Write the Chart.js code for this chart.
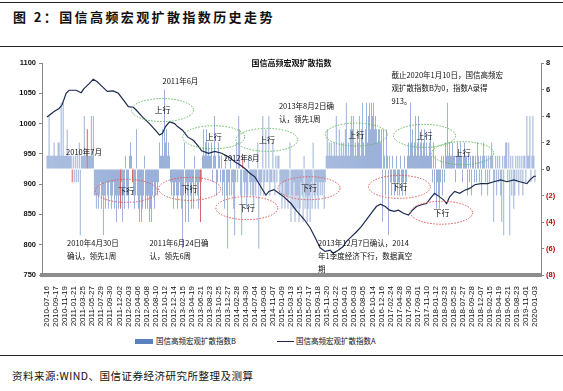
<!DOCTYPE html>
<html>
<head>
<meta charset="utf-8">
<script src="https://cdn.jsdelivr.net/npm/chart.js@4.4.1/dist/chart.umd.min.js"></script>
<style>
  body { margin: 0; width: 563px; height: 391px; background: #fff; position: relative; overflow: hidden; font-family: "Noto Sans CJK SC", sans-serif; }
  .rule { position: absolute; left: 0; width: 563px; height: 1px; background: #222; }
  #title { position: absolute; left: 13px; top: 7px; font-size: 13px; font-weight: bold; letter-spacing: 2.4px; color: #111; }
  #src { position: absolute; left: 12px; top: 368px; font-size: 10.5px; letter-spacing: 0.5px; color: #111; }
  #wrap { position: absolute; left: 0; top: 50px; width: 563px; height: 282px; }
  .lg { position: absolute; top: 334px; font-size: 7.5px; color: #111; line-height: 14px; }
  .box { position: absolute; top: 339px; left: 135px; width: 18px; height: 5px; background: #5b80bf; }
  .ln { position: absolute; top: 341px; left: 277px; width: 17px; height: 1px; background: #1c2a52; }
</style>
</head>
<body>
<div class="rule" style="top:2px"></div>
<div id="title">图 2：国信高频宏观扩散指数历史走势</div>
<div class="rule" style="top:46px"></div>
<div id="wrap"><canvas id="chart"></canvas></div>
<div class="box"></div><div class="lg" style="left:156px">国信高频宏观扩散指数B</div>
<div class="ln"></div><div class="lg" style="left:296px">国信高频宏观扩散指数A</div>
<div class="rule" style="top:355px"></div>
<div id="src">资料来源:WIND、国信证券经济研究所整理及测算</div>
<script>
const tickLabels = ['2010-07-16','2010-09-17','2010-11-19','2011-01-21','2011-03-25','2011-05-27','2011-07-29','2011-09-30','2011-12-02',
  '2012-02-03','2012-04-06','2012-06-08','2012-08-10','2012-10-12','2012-12-14','2013-02-15','2013-04-19','2013-06-21','2013-08-23',
  '2013-10-25','2013-12-27','2014-02-28','2014-04-30','2014-07-04','2014-09-05','2014-11-07','2015-01-09','2015-03-13','2015-05-15',
  '2015-07-17','2015-09-18','2015-11-20','2016-01-22','2016-04-01','2016-06-03','2016-08-05','2016-10-14','2016-12-16','2017-02-24',
  '2017-04-28','2017-06-30','2017-09-01','2017-11-10','2018-01-12','2018-03-23','2018-05-25','2018-07-27','2018-09-28','2018-12-07',
  '2019-02-15','2019-04-19','2019-06-21','2019-08-23','2019-11-01','2020-01-03'];

// 指数B (weekly, right axis), ten weeks per row
const indexB = [
  1,1,4,1,1,1,1,2,1,1,
  1,2,2,1,5,1,5,1,1,1,
  3,1,1,1,1,-1,1,-1,1,-1,
  1,-1,2,-5,1,1,1,4,1,1,
  3,1,1,1,4,1,4,-2,-2,-3,
  -2,-3,-2,-1,-3,-2,-5,-2,-3,-1,
  -2,-3,-1,-2,-3,-2,-1,-3,-2,-4,
  -2,-3,-2,-3,-1,-4,-2,-3,1,-2,
  -2,-3,1,2,1,-1,-2,-3,-2,3,
  -2,-3,-4,-2,-4,-3,-2,1,-3,-2,
  -3,-2,-4,-3,-4,-2,-1,-3,-2,-1,
  -2,-1,2,1,1,3,1,6,2,3,
  1,2,1,-1,-2,-1,-3,-2,-1,-2,
  -3,-2,-1,-2,-3,-6,-2,2,-4,-1,
  -2,-4,-1,-2,-3,-1,-3,1,-2,-1,
  -2,-3,-1,-4,-1,1,3,1,2,3,
  1,2,1,1,2,-1,1,4,1,-2,
  -1,2,1,-1,1,-2,-1,-3,1,-2,
  -6,-1,-2,1,-2,-1,-3,-5,-1,2,
  -1,4,3,-2,-5,1,-1,-2,-1,-3,
  -2,1,-1,-2,-1,-2,-3,-1,-2,-1,
  2,-6,-1,-2,-1,4,-2,-1,3,-1,
  -1,4,-2,-1,-1,2,-1,-2,1,-1,
  1,1,-2,-1,-3,-2,-1,-3,-2,-2,
  -3,-2,2,-4,-2,-3,-1,-4,-2,-3,
  -2,-4,-3,-1,-2,-4,1,-3,-2,-4,
  -3,-2,-4,-1,-3,2,-2,-3,-1,-2,
  -3,-1,-2,-1,-2,-1,-3,-1,1,3,
  1,2,1,2,1,1,2,1,4,1,
  1,3,1,2,1,2,1,3,5,1,
  2,1,3,4,3,4,1,2,1,3,
  2,4,1,3,5,2,1,3,5,2,
  4,5,3,5,4,5,3,4,3,2,
  3,3,2,3,-4,3,1,-2,3,1,
  -5,1,-1,-2,1,-1,-2,-1,1,-2,
  -1,-2,1,-1,-2,-1,1,-2,-1,1,
  2,1,5,2,3,1,2,4,1,2,
  4,1,2,3,1,2,3,1,2,1,
  1,2,3,1,-1,2,-2,1,-3,-1,
  -2,-3,-1,1,-2,1,-1,2,1,5,
  1,2,1,1,2,1,1,-1,1,2,
  1,1,2,1,-1,1,2,1,1,-2,
  1,-1,1,-2,1,1,-1,1,-1,2,
  1,-1,1,-2,1,2,1,-1,1,-2,
  1,-1,1,2,1,-4,-1,1,-2,1,
  -1,1,-2,-4,1,-5,1,2,2,-1,
  2,-5,1,-2,1,-3,-2,1,-1,1,
  -2,1,-1,1,-2,1,1,-1,4,1,
  1,4,-1,1,4,1,-1,0
];

// 指数A (left axis), read at selected weeks
const idxA = [0,7,12,15,19,22,29,34,37,42,46,50,55,60,66,71,76,81,86,89,95,102,109,112,115,118,122,127,130,135,140,146,151,154,
  161,167,174,181,187,192,197,202,207,210,215,218,221,226,231,236,243,249,256,262,267,272,277,282,285,290,295,298,303,308,313,
  318,323,328,332,337,341,346,350,355,360,364,368,373,378,383,386,391,395,398,401,406,411,416,421,426,432,439,445,452,458,465,
  471,478,481,485,487];
const indexA = [1011,1020,1025,1031,1050,1055,1055,1051,1058,1066,1073,1069,1061,1053,1054,1050,1039,1028,1027,1022,1011,1000,987,
  981,984,995,1003,1000,995,989,978,972,962,955,951,954,951,945,937,932,926,918,912,904,890,882,888,891,885,879,868,855,842,828,
  812,795,789,791,786,791,797,805,813,821,830,841,852,863,867,863,857,855,857,852,849,857,863,866,868,879,885,879,874,868,879,
  888,885,890,893,899,901,901,904,907,904,907,904,901,907,913,913];

const redWeeks = [25, 40, 73, 85, 153, 195];

const ellipsesUp = [[115, 4.45], [166, 2.4], [219, 2.2], [308, 2.6], [376, 2.5], [414, 1.2]];
const ellipsesDown = [[79, -1.65], [142, -1.5], [199, -2.95], [261, -1.45], [351, -1.35], [393, -3.3]];
const notes = [
  [115, 6.6, ['2011年6月']],
  [19, 1.3, ['2010年7月']],
  [20, -5.6, ['2010年4月30日', '确认，领先1周']],
  [102, -5.6, ['2011年6月24日确', '认，领先6周']],
  [176, 0.85, ['2012年8月']],
  [231, 4.75, ['2013年8月2日确', '认，领先1周']],
  [270, -5.6, ['2013年12月7日确认，2014', '年1季度经济下行，数据真空', '期']],
  [343, 7.1, ['截止2020年1月10日，国信高频宏', '观扩散指数B为0，指数A录得', '913。']]
];

const notesPlugin = {
  id: 'notes',
  afterDatasetsDraw(chart) {
    const { ctx, scales: { x, y2 }, chartArea } = chart;
    ctx.save();
    ctx.lineWidth = 1;
    ctx.setLineDash([1.5, 1.5]);
    const drawEll = (list, color, word) => {
      list.forEach(([i, v]) => {
        ctx.strokeStyle = color;
        ctx.beginPath();
        ctx.ellipse(x.getPixelForValue(i), y2.getPixelForValue(v), 31, 11.5, 0, 0, Math.PI * 2);
        ctx.stroke();
        ctx.fillStyle = '#111';
        ctx.font = '8px "Noto Sans CJK SC"';
        ctx.textAlign = 'center';
        ctx.textBaseline = 'middle';
        ctx.fillText(word, x.getPixelForValue(i), y2.getPixelForValue(v));
      });
    };
    drawEll(ellipsesUp, '#5cb85c', '上行');
    drawEll(ellipsesDown, '#e05050', '下行');
    ctx.setLineDash([]);
    ctx.fillStyle = '#111';
    ctx.textAlign = 'left';
    ctx.font = '7.5px "Noto Sans CJK SC"';
    notes.forEach(([i, v, lines]) => {
      const px = x.getPixelForValue(i), py = y2.getPixelForValue(v);
      lines.forEach((t, k) => ctx.fillText(t, px, py + k * 13));
    });
    ctx.font = 'bold 8px "Noto Sans CJK SC"';
    ctx.textAlign = 'center';
    ctx.fillText('国信高频宏观扩散指数', (chartArea.left + chartArea.right) / 2, chartArea.top);
    ctx.restore();
  }
};

const tickFont = { family: 'Liberation Sans, Arial', size: 7.5, weight: 'bold' };

new Chart(document.getElementById('chart'), {
  data: {
    datasets: [
      {
        type: 'line',
        label: '国信高频宏观扩散指数A',
        data: idxA.map((i, k) => ({ x: i, y: indexA[k] })),
        yAxisID: 'y',
        borderColor: '#1c2a52',
        borderWidth: 1.2,
        pointRadius: 0,
        order: 0
      },
      {
        type: 'bar',
        label: '国信高频宏观扩散指数B',
        data: indexB.map((v, i) => ({ x: i, y: v })),
        yAxisID: 'y2',
        backgroundColor: indexB.map((v, i) => redWeeks.includes(i) ? '#c00000' : '#5a7fc0'),
        barPercentage: 0.6,
        categoryPercentage: 1,
        order: 1
      }
    ]
  },
  options: {
    responsive: true,
    maintainAspectRatio: false,
    animation: false,
    layout: { padding: { top: 13, left: 0, right: 0, bottom: 0 } },
    plugins: { legend: { display: false }, tooltip: { enabled: false } },
    scales: {
      x: {
        type: 'linear',
        min: -0.5,
        max: indexB.length - 0.5,
        afterFit(s) { s.height = 57; },
        afterBuildTicks(s) { s.ticks = tickLabels.map((_, k) => ({ value: k * 9 })); },
        grid: { display: false },
        border: { display: true, color: '#8c8c8c', width: 4 },
        ticks: {
          autoSkip: false, maxRotation: 90, minRotation: 90, padding: 3,
          font: { family: 'Liberation Sans, Arial', size: 8 }, color: '#111',
          callback: v => tickLabels[v / 9]
        }
      },
      y: {
        position: 'left',
        min: 750, max: 1100,
        afterFit(s) { s.width = 42; },
        grid: { display: true, drawOnChartArea: false, tickLength: 3, color: '#868686' },
        border: { display: true, color: '#868686' },
        ticks: { stepSize: 50, font: tickFont, color: '#111', padding: 3, callback: v => String(v) }
      },
      y2: {
        position: 'right',
        min: -8, max: 8,
        afterFit(s) { s.width = 22; },
        grid: { display: true, drawOnChartArea: false, tickLength: 3, color: '#868686' },
        border: { display: true, color: '#868686' },
        ticks: {
          stepSize: 2, font: tickFont, padding: 2,
          color: c => c.tick.value < 0 ? '#c00000' : '#111',
          callback: v => v < 0 ? '(' + (-v) + ')' : v
        }
      }
    }
  },
  plugins: [notesPlugin]
});
</script>
</body>
</html>
